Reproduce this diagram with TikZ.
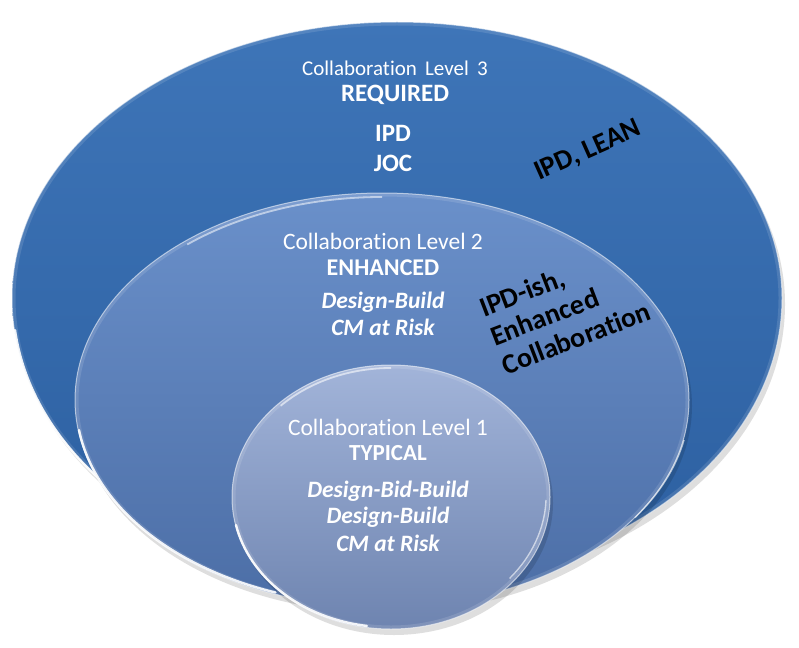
\documentclass[tikz,border=0pt]{standalone}
\usepackage{fontspec}
\setmainfont{Carlito}[Ligatures=NoCommon]
\definecolor{c3t}{RGB}{62,117,184}
\definecolor{c3b}{RGB}{44,95,160}
\definecolor{c2t}{RGB}{106,144,202}
\definecolor{c2b}{RGB}{76,110,166}
\definecolor{c1t}{RGB}{162,180,217}
\definecolor{c1b}{RGB}{110,132,176}
\tikzset{
  lvltxt/.style={text=white, inner sep=0pt, font=\fontsize{22}{24}\selectfont},
  boldtxt/.style={text=white, inner sep=0pt, font=\fontsize{24}{26}\selectfont\bfseries},
  itxt/.style={text=white, inner sep=0pt, font=\fontsize{23.5}{26}\selectfont\bfseries\itshape},
  blacktxt/.style={text=black, inner sep=0pt, font=\fontsize{28}{31}\selectfont\bfseries},
  shadowfill/.style={fill=black, opacity=0.13},
  rimline/.style={draw=white, line width=1.0pt, opacity=0.55},
  glint/.style={draw=white, line width=2.4pt, opacity=0.9, line cap=round},
}
\def\outerpath{(12,298) arc[start angle=180,end angle=0,x radius=385pt,y radius=276pt] arc[start angle=0,end angle=-180,x radius=385pt,y radius=285pt] -- cycle}
\def\middlepath{(382,400) ellipse [x radius=307pt, y radius=207pt]}
\def\innerpath{(391,497) ellipse [x radius=159pt, y radius=132pt]}
\begin{document}
\begin{tikzpicture}[x=1pt,y=-1pt]
\useasboundingbox (0,0) rectangle (799,647);
\fill[white] (0,0) rectangle (799,647);
% ---------- outer (level 3)
\fill[shadowfill, shift={(3,6)}] \outerpath;
\shade[top color=c3t, bottom color=c3b] \outerpath;
\begin{scope}
  \clip \outerpath;
  \draw[draw=white, line width=7pt, opacity=0.12] \outerpath;
\end{scope}
\draw[rimline] \outerpath;
\draw[glint] (15,330) arc[start angle=186,end angle=232,x radius=381pt,y radius=281pt];
\draw[draw=white, line width=1.6pt, opacity=0.5] (150,82) arc[start angle=130,end angle=70,x radius=380pt,y radius=271pt];
% ---------- middle (level 2)
\fill[shadowfill, shift={(3,6)}] \middlepath;
\shade[top color=c2t, bottom color=c2b] \middlepath;
\begin{scope}
  \clip \middlepath;
  \draw[draw=white, line width=7pt, opacity=0.12] \middlepath;
\end{scope}
\draw[rimline] \middlepath;
\draw[glint] (79,430) arc[start angle=188,end angle=250,x radius=303pt,y radius=203pt];
\draw[draw=white, line width=1.8pt, opacity=0.55] (382,197) arc[start angle=90,end angle=130,x radius=303pt,y radius=203pt];
\draw[draw=white, line width=1.4pt, opacity=0.6] (684,440) arc[start angle=-11,end angle=-35,x radius=303pt,y radius=203pt];
% ---------- inner (level 1)
\fill[shadowfill, shift={(3,6)}] \innerpath;
\shade[top color=c1t, bottom color=c1b] \innerpath;
\begin{scope}
  \clip \innerpath;
  \draw[draw=white, line width=7pt, opacity=0.12] \innerpath;
\end{scope}
\draw[rimline] \innerpath;
\draw[glint] (236,525) arc[start angle=192,end angle=262,x radius=156pt,y radius=129pt];
\draw[draw=white, line width=1.8pt, opacity=0.55] (391,368) arc[start angle=90,end angle=135,x radius=156pt,y radius=129pt];
\draw[draw=white, line width=1.4pt, opacity=0.6] (546,500) arc[start angle=-2,end angle=-40,x radius=156pt,y radius=129pt];
% ---------- texts level 3
\node[lvltxt, font=\fontsize{21}{24}\selectfont] (l3) at (395,68) {Collaboration\ \,Level\ \,3};
\node[boldtxt, font=\fontsize{25}{27}\selectfont\bfseries] (req) at (395,95) {REQUIRED};
\node[boldtxt, font=\fontsize{25}{27}\selectfont\bfseries] (ipd) at (393,133) {IPD};
\node[boldtxt, font=\fontsize{25}{27}\selectfont\bfseries] (joc) at (393,163) {JOC};
% ---------- texts level 2
\node[lvltxt, font=\fontsize{23.5}{26}\selectfont] (l2) at (383,241) {Collaboration Level 2};
\node[boldtxt] (enh) at (383,268) {ENHANCED};
\node[itxt] (db2) at (383,302) {Design-Build};
\node[itxt] (cm2) at (383,327) {CM at Risk};
% ---------- texts level 1
\node[lvltxt, font=\fontsize{23.5}{26}\selectfont] (l1) at (388,427) {Collaboration Level 1};
\node[boldtxt, font=\fontsize{23}{26}\selectfont\bfseries] (typ) at (388,453) {TYPICAL};
\node[itxt] (dbb1) at (388,491) {Design-Bid-Build};
\node[itxt] (db1) at (388,517) {Design-Build};
\node[itxt] (cm1) at (388,543) {CM at Risk};
% ---------- black rotated labels
\node[blacktxt, rotate=24] (lean) at (588,151) {IPD, LEAN};
\node[blacktxt, rotate=21, align=left] (ish) at (565,309) {IPD-ish,\\Enhanced\\Collaboration};
\end{tikzpicture}
\end{document}
